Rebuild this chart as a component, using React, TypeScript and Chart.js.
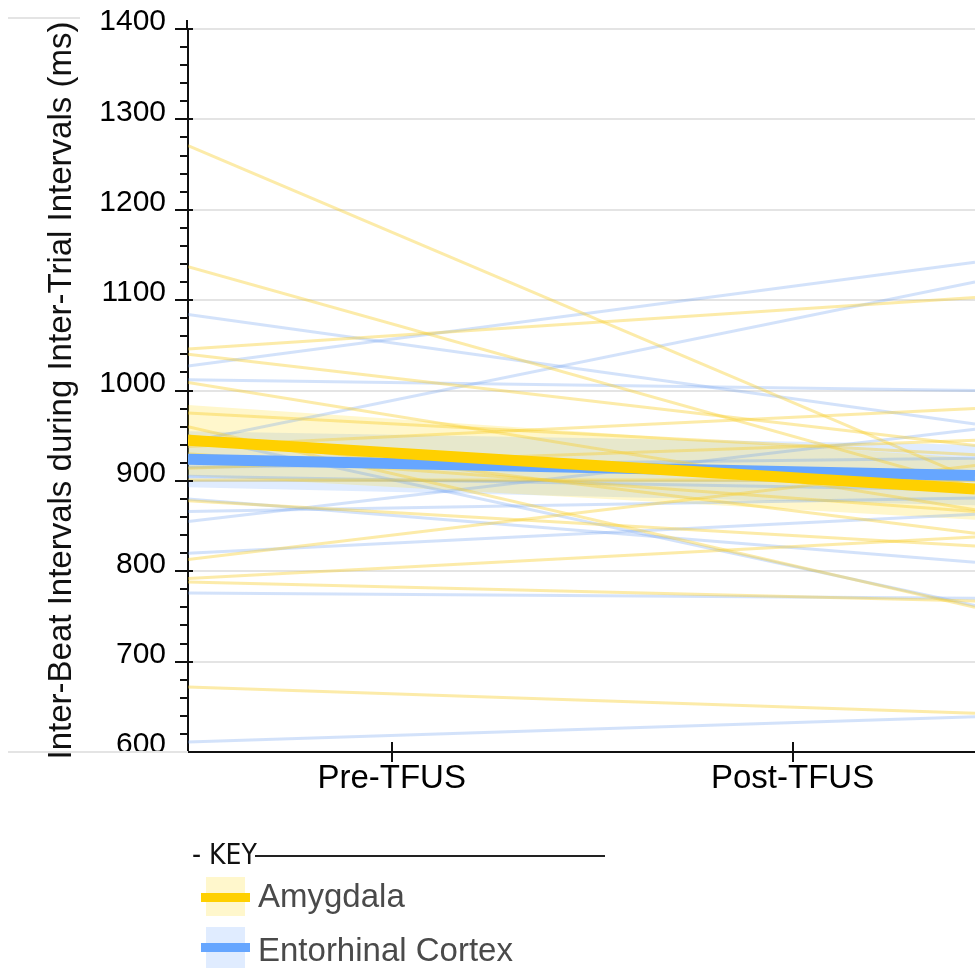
import React, { useEffect, useRef } from 'react';
import { Chart, registerables } from 'chart.js';

Chart.register(...registerables);

// ---------- data ----------
const categories = ['Pre-TFUS', 'Post-TFUS'];
const categoryPositions = [0, 1];
// x extent (axis units) over which each subject line is drawn: left edge -> right edge
const lineSpan = [-0.508, 1.455];

const yMin = 600;
const yMax = 1400;
const yMajorStep = 100;
const yMinorStep = 20;

// Amygdala subjects: value at left edge, value at right edge
const amygdalaStart = [1271, 1137, 1046, 1040, 1009, 975, 960, 950, 938, 930, 914, 901, 878, 813, 792, 788, 672];
const amygdalaEnd = [901, 893, 1103, 939, 868, 929, 760, 842, 980, 866, 945, 901, 828, 917, 838, 767, 643];

// Entorhinal Cortex subjects
const entorhinalStart = [1084, 1027, 1012, 943, 950, 880, 866, 855, 820, 776, 611, 905, 915];
const entorhinalEnd = [963, 1142, 1000, 1120, 762, 810, 881, 957, 863, 770, 639, 890, 925];

// group means and confidence bands [left, right]
const amygdalaMean = [945, 891];
const amygdalaUpper = [984, 925];
const amygdalaLower = [906, 857];
const entorhinalMean = [924, 906];
const entorhinalUpper = [955, 940];
const entorhinalLower = [893, 873];

const legendLabels = ['Amygdala', 'Entorhinal Cortex'];

// ---------- styles ----------
const FONT = "'Liberation Sans', Arial, Helvetica, sans-serif";
const YELLOW = '#FFD000';
const BLUE = '#66A6FF';
const YELLOW_THIN = 'rgba(247, 204, 40, 0.40)';
const BLUE_THIN = 'rgba(110, 160, 240, 0.30)';
const YELLOW_BAND = 'rgba(255, 215, 0, 0.20)';
const BLUE_BAND = 'rgba(100, 160, 255, 0.20)';

const seg = (a: number, b: number) => [
  { x: lineSpan[0], y: a },
  { x: lineSpan[1], y: b },
];

const axisTicksPlugin = {
  id: 'axisTicks',
  afterDraw(chart: any) {
    const { ctx, scales, chartArea } = chart;
    const x = scales.x;
    const y = scales.y;
    ctx.save();
    ctx.strokeStyle = '#111';
    ctx.lineWidth = 2;
    // small extension of the y axis line above the top tick
    ctx.beginPath();
    ctx.moveTo(chartArea.left - 1, chartArea.top - 9);
    ctx.lineTo(chartArea.left - 1, chartArea.top);
    ctx.stroke();
    y.ticks.forEach((t: any) => {
      const py = Math.round(y.getPixelForValue(t.value));
      const major = t.value % yMajorStep === 0;
      ctx.beginPath();
      ctx.moveTo(chartArea.left - (major ? 13 : 8), py);
      ctx.lineTo(chartArea.left + (major ? 5 : 0), py);
      ctx.stroke();
    });
    x.ticks.forEach((t: any) => {
      const px = Math.round(x.getPixelForValue(t.value));
      ctx.beginPath();
      ctx.moveTo(px, chartArea.bottom - 10);
      ctx.lineTo(px, chartArea.bottom + 10);
      ctx.stroke();
    });
    ctx.restore();
  },
};

export default function App() {
  const ref = useRef<HTMLCanvasElement | null>(null);

  useEffect(() => {
    if (!ref.current) return;

    const individual: any[] = [];
    amygdalaStart.forEach((v, i) => {
      individual.push({
        label: 'Amygdala subject ' + (i + 1),
        data: seg(v, amygdalaEnd[i]),
        borderColor: YELLOW_THIN,
        borderWidth: 3,
        order: 1,
      });
    });
    entorhinalStart.forEach((v, i) => {
      individual.push({
        label: 'Entorhinal subject ' + (i + 1),
        data: seg(v, entorhinalEnd[i]),
        borderColor: BLUE_THIN,
        borderWidth: 3,
        order: 1,
      });
    });

    const datasets: any[] = [
      { label: legendLabels[0] + ' mean', data: seg(amygdalaMean[0], amygdalaMean[1]), borderColor: YELLOW, borderWidth: 11, order: 0 },
      { label: legendLabels[1] + ' mean', data: seg(entorhinalMean[0], entorhinalMean[1]), borderColor: BLUE, borderWidth: 11, order: 0 },
      ...individual,
      { label: 'Amygdala upper', data: seg(amygdalaUpper[0], amygdalaUpper[1]), borderWidth: 0, borderColor: 'rgba(0,0,0,0)', backgroundColor: YELLOW_BAND, fill: '+1', order: 2 },
      { label: 'Amygdala lower', data: seg(amygdalaLower[0], amygdalaLower[1]), borderWidth: 0, borderColor: 'rgba(0,0,0,0)', fill: false, order: 2 },
      { label: 'Entorhinal upper', data: seg(entorhinalUpper[0], entorhinalUpper[1]), borderWidth: 0, borderColor: 'rgba(0,0,0,0)', backgroundColor: BLUE_BAND, fill: '+1', order: 2 },
      { label: 'Entorhinal lower', data: seg(entorhinalLower[0], entorhinalLower[1]), borderWidth: 0, borderColor: 'rgba(0,0,0,0)', fill: false, order: 2 },
    ];

    const chart = new Chart(ref.current, {
      type: 'line',
      data: { datasets },
      plugins: [axisTicksPlugin],
      options: {
        animation: false,
        responsive: false,
        events: [],
        layout: { padding: { top: 29, right: 0, bottom: 0, left: 0 } },
        elements: {
          point: { radius: 0 },
          line: { tension: 0, borderCapStyle: 'butt' },
        },
        datasets: { line: { clip: 0 } } as any,
        plugins: {
          legend: { display: false },
          tooltip: { enabled: false },
        },
        scales: {
          x: {
            type: 'linear',
            min: lineSpan[0],
            max: lineSpan[1],
            afterBuildTicks: (scale: any) => {
              scale.ticks = categoryPositions.map((v) => ({ value: v }));
            },
            afterFit: (scale: any) => {
              scale.height = 216;
              scale.paddingLeft = 0;
              scale.paddingRight = 0;
            },
            ticks: {
              autoSkip: false,
              maxRotation: 0,
              padding: 7,
              color: '#000',
              font: { family: FONT, size: 33 },
              callback: (v: any) => {
                const i = categoryPositions.indexOf(Number(v));
                return i >= 0 ? categories[i] : '';
              },
            },
            grid: { display: true, drawOnChartArea: false, drawTicks: false },
            border: { display: true, color: '#111', width: 2 },
          },
          y: {
            type: 'linear',
            min: yMin,
            max: yMax,
            afterFit: (scale: any) => {
              scale.width = 188;
              scale.paddingTop = 0;
              scale.paddingBottom = 0;
            },
            ticks: {
              stepSize: yMinorStep,
              autoSkip: false,
              padding: 22,
              labelOffset: -7,
              color: '#000',
              font: { family: FONT, size: 30 },
              callback: (v: any) => (Number(v) % yMajorStep === 0 ? String(v) : ''),
            },
            grid: {
              drawTicks: false,
              lineWidth: 2,
              color: (ctx: any) =>
                ctx.tick && ctx.tick.value % yMajorStep === 0 ? '#e4e4e4' : 'rgba(0,0,0,0)',
            },
            border: { display: true, color: '#111', width: 2 },
            title: {
              display: true,
              text: 'Inter-Beat Intervals during Inter-Trial Intervals (ms)',
              color: '#111',
              font: { family: FONT, size: 33 },
              padding: { top: 42, bottom: 0 },
            },
          },
        },
      } as any,
    });

    return () => chart.destroy();
  }, []);

  const textStyle: React.CSSProperties = {
    position: 'absolute',
    fontFamily: FONT,
    fontSize: 33,
    lineHeight: '33px',
    color: '#4a4a4a',
    whiteSpace: 'nowrap',
  };

  return (
    <div style={{ position: 'absolute', left: 0, top: 0, width: 975, height: 968, overflow: 'hidden', background: '#fff' }}>
      <canvas ref={ref} width={975} height={968} style={{ display: 'block', width: 975, height: 968 }} />
      <div style={{ position: 'absolute', left: 8, top: 17, width: 72, height: 2, background: '#e4e4e4' }} />
      <div style={{ position: 'absolute', left: 8, top: 751, width: 180, height: 2, background: '#e4e4e4' }} />

      <div
        style={{
          position: 'absolute',
          left: 192,
          top: 841,
          fontFamily: "'Liberation Sans Narrow', 'DejaVu Sans Condensed', " + FONT,
          fontSize: 28,
          lineHeight: '28px',
          color: '#111',
          whiteSpace: 'nowrap',
        }}
      >
        - KEY
      </div>
      <div style={{ position: 'absolute', left: 255, top: 855, width: 350, height: 2, background: '#222' }} />

      <div style={{ position: 'absolute', left: 206, top: 877, width: 39, height: 39, background: YELLOW_BAND }} />
      <div style={{ position: 'absolute', left: 201, top: 893, width: 49, height: 9, background: YELLOW }} />
      <div style={{ ...textStyle, left: 258, top: 879 }}>{legendLabels[0]}</div>

      <div style={{ position: 'absolute', left: 206, top: 927, width: 39, height: 41, background: BLUE_BAND }} />
      <div style={{ position: 'absolute', left: 201, top: 943, width: 49, height: 9, background: BLUE }} />
      <div style={{ ...textStyle, left: 258, top: 933 }}>{legendLabels[1]}</div>
    </div>
  );
}
